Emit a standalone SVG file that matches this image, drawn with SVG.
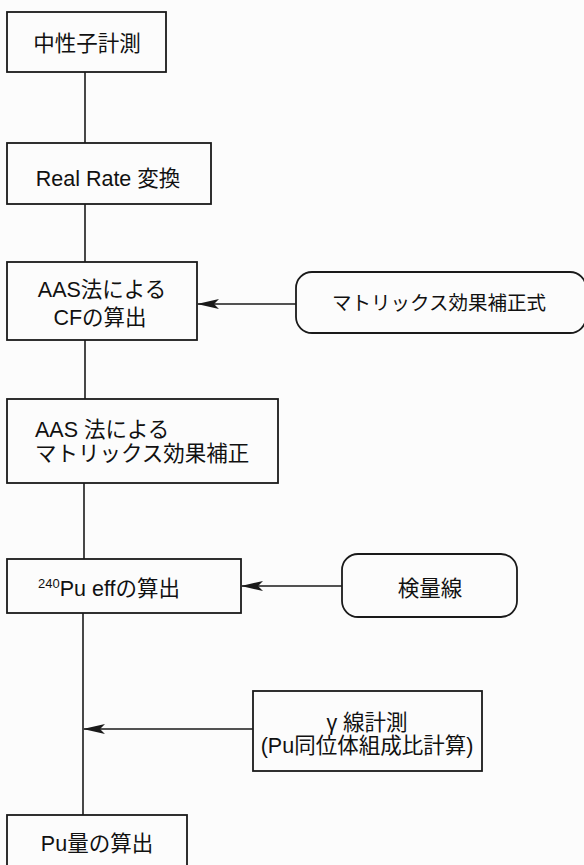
<svg xmlns="http://www.w3.org/2000/svg" width="584" height="865" viewBox="0 0 584 865">
<defs>
<style>
.bx{fill:none;stroke:#1a1a1a;stroke-width:1.8}
.ln{fill:none;stroke:#1a1a1a;stroke-width:1.6}
.t{font-family:"Liberation Sans","Noto Sans CJK JP",sans-serif;font-size:21.5px;fill:#111}
.m{text-anchor:middle}
.s{font-size:19.5px}
</style>
<marker id="ah" viewBox="0 0 22 12" refX="21" refY="6" markerWidth="22" markerHeight="12" markerUnits="userSpaceOnUse" orient="auto">
<path d="M0,1 L22,6 L0,11 L5,6 Z" fill="#1a1a1a"/>
</marker>
</defs>
<rect width="584" height="865" fill="#fcfcfc"/>
<g id="connectors">
<line class="ln" x1="85" y1="72" x2="85" y2="143"/>
<line class="ln" x1="85" y1="204" x2="85" y2="262"/>
<line class="ln" x1="85" y1="340" x2="85" y2="399"/>
<line class="ln" x1="84" y1="483" x2="84" y2="559"/>
<line class="ln" x1="83" y1="613" x2="83" y2="815"/>
<line class="ln" x1="296" y1="304" x2="198" y2="304" marker-end="url(#ah)"/>
<line class="ln" x1="342" y1="586" x2="242" y2="586" marker-end="url(#ah)"/>
<line class="ln" x1="253" y1="729" x2="84" y2="729" marker-end="url(#ah)"/>
</g>
<g id="n1">
<rect class="bx" x="7" y="12" width="159" height="60"/>
<text class="t m" x="87" y="51">中性子計測</text>
</g>
<g id="n2">
<rect class="bx" x="7" y="143" width="204" height="61"/>
<text class="t m" x="108" y="186">Real Rate 変換</text>
</g>
<g id="n3">
<rect class="bx" x="7" y="262" width="190" height="78"/>
<text class="t m" x="102" y="297">AAS法による</text>
<text class="t m" x="100" y="325">CFの算出</text>
</g>
<g id="n4">
<rect class="bx" x="7" y="399" width="271" height="84"/>
<text class="t" x="35" y="437">AAS 法による</text>
<text class="t" x="35" y="461">マトリックス効果補正</text>
</g>
<g id="n5">
<rect class="bx" x="7" y="559" width="234" height="54"/>
<text class="t" x="38" y="596"><tspan font-size="13" dy="-8">240</tspan><tspan dy="8">Pu effの算出</tspan></text>
</g>
<g id="n6">
<rect class="bx" x="7" y="815" width="180" height="60"/>
<text class="t m" x="97" y="851">Pu量の算出</text>
</g>
<g id="r1">
<rect class="bx" x="296" y="272" width="290" height="61" rx="16"/>
<text class="t m s" x="439" y="310">マトリックス効果補正式</text>
</g>
<g id="r2">
<rect class="bx" x="342" y="554" width="175" height="63" rx="16"/>
<text class="t m" x="430" y="596">検量線</text>
</g>
<g id="r3">
<rect class="bx" x="253" y="691" width="229" height="80"/>
<text class="t m" x="367" y="730">γ 線計測</text>
<text class="t m" x="367" y="753">(Pu同位体組成比計算)</text>
</g>
</svg>
